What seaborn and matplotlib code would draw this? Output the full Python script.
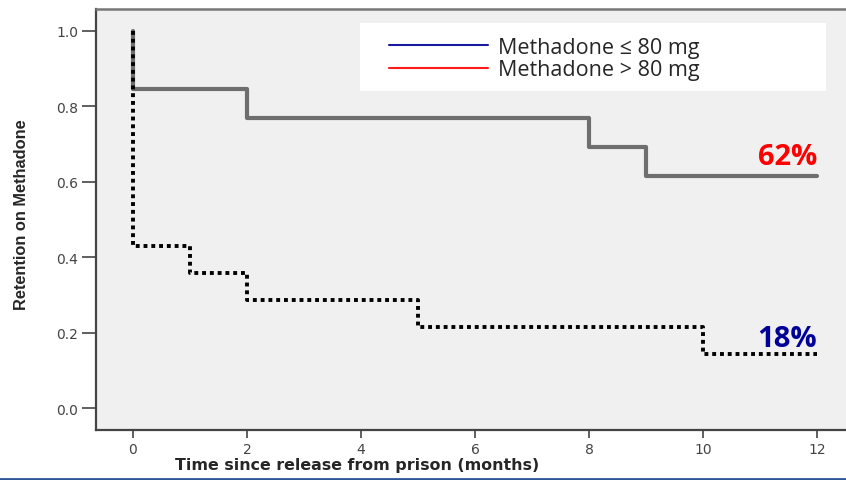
import numpy as np
import pandas as pd
import seaborn as sns
import matplotlib.pyplot as plt
from matplotlib.lines import Line2D
from matplotlib.patches import Rectangle

# retention curves (Kaplan-Meier style steps)
time_high = [0, 0, 2, 8, 9, 12]
ret_high = [1.0, 0.846, 0.769, 0.692, 0.615, 0.615]
time_low = [0, 0, 1, 2, 5, 10, 12]
ret_low = [1.0, 0.429, 0.357, 0.286, 0.214, 0.143, 0.143]

legend_labels = ['Methadone \u2264 80 mg', 'Methadone > 80 mg']
end_labels = ['62%', '18%']
x_ticks = [0, 2, 4, 6, 8, 10, 12]
y_ticks = [0.0, 0.2, 0.4, 0.6, 0.8, 1.0]

sns.set_theme(style='ticks')
plt.rcParams['font.family'] = ['DejaVu Sans']

fig = plt.figure(figsize=(8.46, 4.81), dpi=100)
ax = fig.add_axes([96/846, 1-431/481, (846-96)/846, (431-10)/481])
ax.set_facecolor('#f0f0f0')

df_high = pd.DataFrame({'t': time_high, 'r': ret_high})
df_low = pd.DataFrame({'t': time_low, 'r': ret_low})
sns.lineplot(data=df_high, x='t', y='r', estimator=None, sort=False,
             drawstyle='steps-post', color='#6e6e6e', lw=3, ax=ax)
sns.lineplot(data=df_low, x='t', y='r', estimator=None, sort=False,
             drawstyle='steps-post', color='black', lw=2.8,
             linestyle=(0, (1, 1)), ax=ax)

ax.set_xlim(-0.649, 12.51)
ax.set_ylim(-0.058, 1.058)
ax.set_xticks(x_ticks)
ax.set_yticks(y_ticks)
ax.set_xticklabels([str(v) for v in x_ticks])
ax.set_yticklabels(['%.1f' % v for v in y_ticks])
ax.tick_params(axis='x', length=6, width=1.2, color='#444444', labelcolor='#444444', labelsize=10, pad=3)
ax.tick_params(axis='y', length=10, width=1.2, color='#444444', labelcolor='#444444', labelsize=10, pad=3)

for s in ['left', 'bottom']:
    ax.spines[s].set_color('#444444')
    ax.spines[s].set_linewidth(1.6)
ax.spines['top'].set_color('#777777')
ax.spines['top'].set_linewidth(1.8)
ax.spines['right'].set_visible(False)

ax.set_xlabel('Time since release from prison (months)', fontsize=11.4, fontweight='bold',
              family=['DejaVu Sans'])
ax.xaxis.set_label_coords((357-96)/750, (431-466)/421)
ax.xaxis.label.set_va('center')
ax.set_ylabel('Retention on Methadone', fontsize=11.8, fontweight='bold',
              family=['Liberation Sans Narrow', 'Liberation Sans'])
ax.yaxis.set_label_coords((22-96)/750, (431-215)/421)
ax.yaxis.label.set_va('center')

# end-of-curve percentages
ax.text(12, 0.667, end_labels[0], color='#ff0000', fontsize=21, fontweight='bold',
        family=['Open Sans', 'DejaVu Sans'], ha='right', va='center')
ax.text(12, 0.185, end_labels[1], color='#000099', fontsize=21, fontweight='bold',
        family=['Open Sans', 'DejaVu Sans'], ha='right', va='center')

# white legend panel (pasted box, wider than its content)
panel = Rectangle((360/846, 1-92/481), (826-360)/846, (92-24)/481,
                  transform=fig.transFigure, facecolor='white', edgecolor='none',
                  clip_on=False, zorder=4)
ax.add_patch(panel)
handles = [Line2D([], [], color='#1a1aa0', lw=1.5), Line2D([], [], color='#ff1a1a', lw=1.5)]
leg = ax.legend(handles, legend_labels, loc='upper left', bbox_to_anchor=(389/846, 1-38/481),
                bbox_transform=fig.transFigure, frameon=False,
                prop={'family': ['Open Sans', 'DejaVu Sans'], 'size': 15.5},
                handlelength=4.6, handletextpad=0.45, labelspacing=0.05,
                borderpad=0, borderaxespad=0)
leg.set_zorder(6)

# slide-style blue rule at the bottom
fig.add_artist(Line2D([0, 1], [1.5/481, 1.5/481], transform=fig.transFigure,
                      color='#2e5597', lw=2))

fig.savefig('out.png', dpi=100)
